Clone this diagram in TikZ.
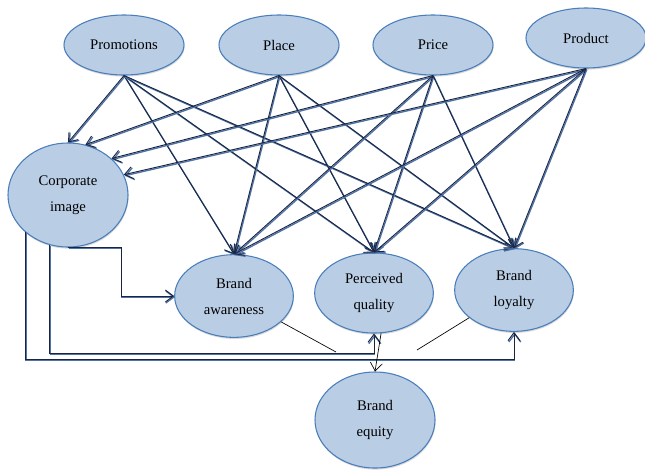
\documentclass[tikz,border=0pt]{standalone}
\usepackage{fontspec}
\setmainfont{Liberation Serif}
\usetikzlibrary{shapes.geometric, arrows.meta, shadows}
\usepackage{xcolor}
\definecolor{nodefill}{HTML}{B9CDE5}
\definecolor{nodeline}{HTML}{4A7EBB}
\definecolor{linknavy}{HTML}{1A2640}
\definecolor{linkshade}{HTML}{4F72A8}

\begin{document}
\begin{tikzpicture}[
    x=0.75pt, y=-0.75pt,
    factor/.style={ellipse, draw=nodeline, fill=nodefill, line width=0.8pt, inner sep=0pt, minimum width=90pt, minimum height=45pt, align=center, font=\fontsize{11}{19.5}\selectfont, drop shadow={shadow xshift=0.4pt, shadow yshift=-1.2pt, opacity=0.3, fill=gray}},
    outcome/.style={factor, minimum width=89pt, minimum height=62pt},
    link/.style={-{Straight Barb[length=6pt, width=9pt]}, draw=linknavy, line width=0.7pt, preaction={draw=linkshade, line width=1pt, transform canvas={shift={(0.6pt,-0.8pt)}}}},
    thinline/.style={draw=black, line width=0.5pt},
    thinarrow/.style={thinline, -{Straight Barb[length=6pt, width=9pt]}}
]
    \useasboundingbox (0,0) rectangle (645,469);

    % marketing mix
    \node[factor] (promo) at (124,45) {Promotions};
    \node[factor] (place) at (279,45) {Place};
    \node[factor] (price) at (433,45) {Price};
    \node[factor] (product) at (586,38) {Product};

    % brand equity dimensions
    \node[factor, minimum height=78pt] (corp) at (68,195) {Corporate\\image};
    \node[outcome] (aware) at (234,296) {Brand\\awareness};
    \node[outcome, minimum height=60pt] (quality) at (374,293) {Perceived\\quality};
    \node[outcome] (loyalty) at (514,290) {Brand\\loyalty};
    \node[outcome, minimum width=90pt, minimum height=72pt] (equity) at (375,420) {Brand\\equity};

    \coordinate (awareEnd) at (336,352);
    \coordinate (loyaltyEnd) at (417,350);

    \draw[link] (promo.south) -- (corp.north);
    \draw[link] (promo.south) -- (aware.north);
    \draw[link] (promo.south) -- (quality.north);
    \draw[link] (promo.south) -- (loyalty.north);

    \draw[link] (place.south) -- (corp.71);
    \draw[link] (place.south) -- (aware.north);
    \draw[link] (place.south) -- (quality.north);
    \draw[link] (place.south) -- (loyalty.north);

    \draw[link] (price.south) -- (corp.40);
    \draw[link] (price.south) -- (aware.north);
    \draw[link] (price.south) -- (quality.north);
    \draw[link] (price.south) -- (loyalty.north);

    \draw[link] (product.south) -- (corp.20);
    \draw[link] (product.south) -- (aware.north);
    \draw[link] (product.south) -- (quality.north);
    \draw[link] (product.south) -- (loyalty.north);

    % corporate image to the dimensions
    \draw[link] (corp.south) -- ++(53,0) |- (aware.west);
    \draw[link] (corp.250) -- ++(0,108) -| (quality.south);
    \draw[link] (corp.221) -- ++(0,127) -| (loyalty.south);

    % towards brand equity
    \draw[thinline] (aware) -- (awareEnd);
    \draw[thinline] (loyalty) -- (loyaltyEnd);
    \draw[thinarrow] (quality.-80) -- (equity.north);
\end{tikzpicture}
\end{document}
